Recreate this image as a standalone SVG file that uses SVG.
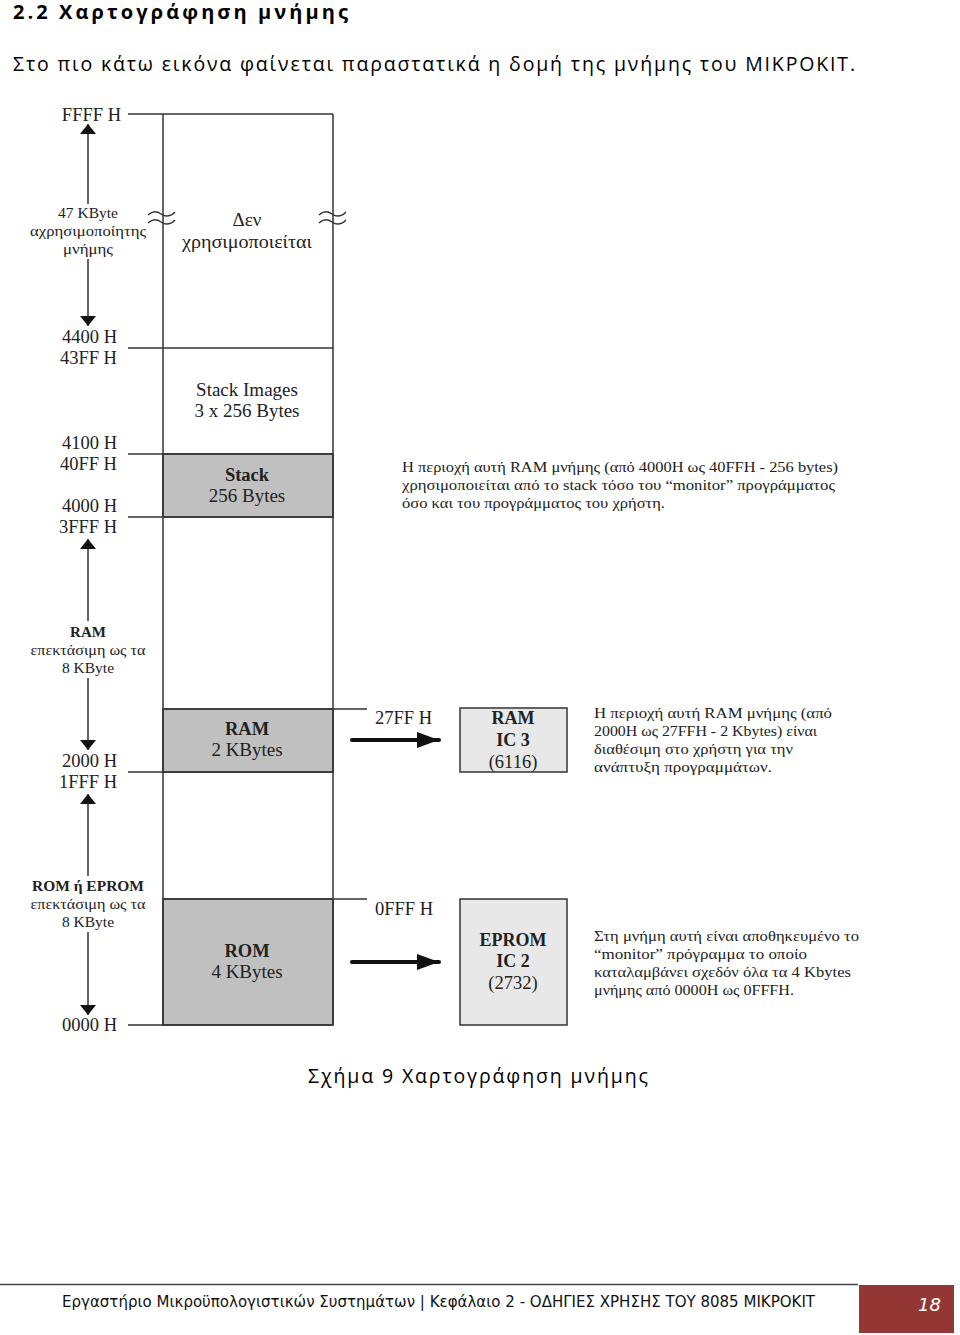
<svg xmlns="http://www.w3.org/2000/svg" width="960" height="1335" viewBox="0 0 960 1335">
<style>
.hd{font-family:"Open Sans","Noto Sans",sans-serif;fill:#000}
.s{font-family:"Liberation Serif","DejaVu Serif",serif;fill:#222}
.c{text-anchor:middle}
.r{text-anchor:end}
.b{font-weight:bold}
.ln{stroke:#333;stroke-width:1.5;fill:none}
.ax{stroke:#222;stroke-width:1.4;fill:none}
.fill{fill:#c0c0c0;stroke:#333;stroke-width:1.5}
.ic{fill:#e8e8e8;stroke:#333;stroke-width:1.5}
.tip{fill:#111}
</style>
<defs>
<marker id="ah" viewBox="0 0 10 16" refX="10" refY="8" markerWidth="11" markerHeight="16" markerUnits="userSpaceOnUse" orient="auto">
<path d="M0,0 L10,8 L0,16 Z" class="tip"/>
</marker>
<marker id="big" viewBox="0 0 22 16" refX="22" refY="8" markerWidth="22" markerHeight="16" markerUnits="userSpaceOnUse" orient="auto">
<path d="M0,0 L22,8 L0,16 Z" class="tip"/>
</marker>
</defs>
<rect width="960" height="1335" fill="#fff"/>

<text class="hd b" x="13" y="19" font-size="20" textLength="335" lengthAdjust="spacing">2.2 Χαρτογράφηση μνήμης</text>
<text class="hd" x="13" y="71" font-size="19.5" textLength="842" lengthAdjust="spacing">Στο πιο κάτω εικόνα φαίνεται παραστατικά η δομή της μνήμης του ΜΙΚΡΟΚΙΤ.</text>

<g id="unused">
<rect x="163" y="114" width="170" height="234" fill="#fff" stroke="none"/>
<text class="s c" x="247" y="226" font-size="19">Δεν</text>
<text class="s c" x="247" y="248" font-size="19" textLength="130" lengthAdjust="spacingAndGlyphs">χρησιμοποιείται</text>
</g>
<g id="stack-images">
<text class="s c" x="247" y="396" font-size="19">Stack Images</text>
<text class="s c" x="247" y="417" font-size="19">3 x 256 Bytes</text>
</g>
<g id="stack">
<rect x="163" y="454" width="170" height="63" class="fill"/>
<text class="s c b" x="247" y="481" font-size="18.5">Stack</text>
<text class="s c" x="247" y="502" font-size="19">256 Bytes</text>
</g>
<g id="ram">
<rect x="163" y="709" width="170" height="63" class="fill"/>
<text class="s c b" x="247" y="735" font-size="18.5">RAM</text>
<text class="s c" x="247" y="756" font-size="19">2 KBytes</text>
</g>
<g id="rom">
<rect x="163" y="899" width="170" height="126" class="fill"/>
<text class="s c b" x="247" y="957" font-size="18.5">ROM</text>
<text class="s c" x="247" y="978" font-size="19">4 KBytes</text>
</g>

<g id="column-lines">
<line class="ln" x1="163" y1="114" x2="163" y2="1025"/>
<line class="ln" x1="333" y1="114" x2="333" y2="1025"/>
<line class="ln" x1="128" y1="114" x2="333" y2="114"/>
<line class="ln" x1="128" y1="348" x2="333" y2="348"/>
<line class="ln" x1="128" y1="454" x2="333" y2="454"/>
<line class="ln" x1="128" y1="517" x2="333" y2="517"/>
<line class="ln" x1="163" y1="709" x2="367" y2="709"/>
<line class="ln" x1="128" y1="772" x2="333" y2="772"/>
<line class="ln" x1="163" y1="899" x2="367" y2="899"/>
<line class="ln" x1="128" y1="1025" x2="333" y2="1025"/>
<path class="ln" d="M148,215 q6,-6 13,-1 t14,-2 M148,223 q6,-6 13,-1 t14,-2"/>
<path class="ln" d="M319,215 q6,-6 13,-1 t14,-2 M319,223 q6,-6 13,-1 t14,-2"/>
</g>

<g id="addr-labels">
<text class="s r" x="121" y="121" font-size="18.5">FFFF H</text>
<text class="s r" x="117" y="343" font-size="18.5">4400 H</text>
<text class="s r" x="117" y="364" font-size="18.5">43FF H</text>
<text class="s r" x="117" y="449" font-size="18.5">4100 H</text>
<text class="s r" x="117" y="470" font-size="18.5">40FF H</text>
<text class="s r" x="117" y="512" font-size="18.5">4000 H</text>
<text class="s r" x="117" y="533" font-size="18.5">3FFF H</text>
<text class="s r" x="117" y="767" font-size="18.5">2000 H</text>
<text class="s r" x="117" y="788" font-size="18.5">1FFF H</text>
<text class="s r" x="117" y="1031" font-size="18.5">0000 H</text>
<text class="s" x="375" y="724" font-size="18.5">27FF H</text>
<text class="s" x="375" y="915" font-size="18.5">0FFF H</text>
</g>

<g id="size-labels">
<text class="s c" x="88" y="218" font-size="15.5">47 KByte</text>
<text class="s c" x="88" y="236" font-size="15.5" textLength="116" lengthAdjust="spacingAndGlyphs">αχρησιμοποίητης</text>
<text class="s c" x="88" y="254" font-size="15.5" textLength="50" lengthAdjust="spacingAndGlyphs">μνήμης</text>
<text class="s c b" x="88" y="637" font-size="15">RAM</text>
<text class="s c" x="88" y="655" font-size="15.5" textLength="115" lengthAdjust="spacingAndGlyphs">επεκτάσιμη ως τα</text>
<text class="s c" x="88" y="673" font-size="15.5">8 KByte</text>
<text class="s c b" x="88" y="891" font-size="15" textLength="112" lengthAdjust="spacingAndGlyphs">ROM ή EPROM</text>
<text class="s c" x="88" y="909" font-size="15.5" textLength="115" lengthAdjust="spacingAndGlyphs">επεκτάσιμη ως τα</text>
<text class="s c" x="88" y="927" font-size="15.5">8 KByte</text>
</g>

<g id="ic3">
<rect x="460" y="708" width="107" height="64" class="ic"/>
<text class="s c b" x="513" y="724" font-size="18">RAM</text>
<text class="s c b" x="513" y="746" font-size="18">IC 3</text>
<text class="s c" x="513" y="768" font-size="18.5">(6116)</text>
</g>
<g id="ic2">
<rect x="460" y="899" width="107" height="126" class="ic"/>
<text class="s c b" x="513" y="946" font-size="18">EPROM</text>
<text class="s c b" x="513" y="967" font-size="18">IC 2</text>
<text class="s c" x="513" y="989" font-size="18.5">(2732)</text>
</g>

<g id="notes">
<text class="s" x="402" y="472" font-size="15" textLength="436" lengthAdjust="spacingAndGlyphs">Η περιοχή αυτή RAM μνήμης  (από  4000H ως 40FFH - 256 bytes)</text>
<text class="s" x="402" y="490" font-size="15" textLength="433" lengthAdjust="spacingAndGlyphs">χρησιμοποιείται από το stack τόσο του “monitor” προγράμματος</text>
<text class="s" x="402" y="508" font-size="15" textLength="263" lengthAdjust="spacingAndGlyphs">όσο και του προγράμματος του χρήστη.</text>
<text class="s" x="594" y="718" font-size="15" textLength="238" lengthAdjust="spacingAndGlyphs">Η περιοχή αυτή RAM μνήμης  (από</text>
<text class="s" x="594" y="736" font-size="15" textLength="223" lengthAdjust="spacingAndGlyphs">2000H ως 27FFH - 2 Kbytes) είναι</text>
<text class="s" x="594" y="754" font-size="15" textLength="199" lengthAdjust="spacingAndGlyphs">διαθέσιμη στο χρήστη για την</text>
<text class="s" x="594" y="772" font-size="15" textLength="178" lengthAdjust="spacingAndGlyphs">ανάπτυξη προγραμμάτων.</text>
<text class="s" x="594" y="941" font-size="15" textLength="265" lengthAdjust="spacingAndGlyphs">Στη μνήμη αυτή είναι αποθηκευμένο το</text>
<text class="s" x="594" y="959" font-size="15" textLength="213" lengthAdjust="spacingAndGlyphs">“monitor” πρόγραμμα το οποίο</text>
<text class="s" x="594" y="977" font-size="15" textLength="257" lengthAdjust="spacingAndGlyphs">καταλαμβάνει σχεδόν όλα τα 4 Kbytes</text>
<text class="s" x="594" y="995" font-size="15" textLength="200" lengthAdjust="spacingAndGlyphs">μνήμης από 0000H ως 0FFFH.</text>
</g>

<g id="connectors">
<line class="ax" x1="88" y1="204" x2="88" y2="124" marker-end="url(#ah)"/>
<line class="ax" x1="88" y1="259" x2="88" y2="326" marker-end="url(#ah)"/>
<line class="ax" x1="88" y1="621" x2="88" y2="539" marker-end="url(#ah)"/>
<line class="ax" x1="88" y1="678" x2="88" y2="750" marker-end="url(#ah)"/>
<line class="ax" x1="88" y1="876" x2="88" y2="794" marker-end="url(#ah)"/>
<line class="ax" x1="88" y1="932" x2="88" y2="1015" marker-end="url(#ah)"/>
<line x1="352" y1="740" x2="439" y2="740" stroke="#111" stroke-width="4" stroke-linecap="round" marker-end="url(#big)"/>
<line x1="352" y1="962" x2="439" y2="962" stroke="#111" stroke-width="4" stroke-linecap="round" marker-end="url(#big)"/>
</g>

<text class="hd" x="308" y="1083" font-size="19.5" textLength="340" lengthAdjust="spacing">Σχήμα 9 Χαρτογράφηση μνήμης</text>

<g id="footer">
<line x1="0" y1="1284.5" x2="858" y2="1284.5" stroke="#444" stroke-width="1.5"/>
<rect x="859" y="1285" width="95" height="48" fill="#943634"/>
<text x="62" y="1307" font-family="DejaVu Sans,Verdana,sans-serif" font-size="15" fill="#111" textLength="753" lengthAdjust="spacingAndGlyphs">Εργαστήριο Μικροϋπολογιστικών Συστημάτων | Κεφάλαιο 2 - ΟΔΗΓΙΕΣ ΧΡΗΣΗΣ ΤΟΥ 8085 ΜΙΚΡΟΚΙΤ</text>
<text x="941" y="1311" font-family="DejaVu Sans,Verdana,sans-serif" font-size="18" font-style="italic" fill="#fff" text-anchor="end">18</text>
</g>
</svg>
